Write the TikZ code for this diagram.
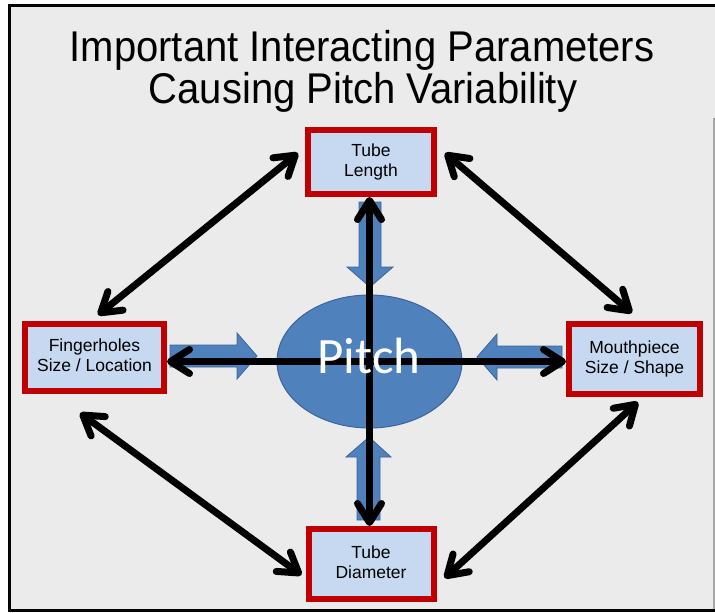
\documentclass[tikz,border=0pt]{standalone}
\usepackage{fontspec}
\setmainfont{Liberation Sans}
\newfontfamily\pitchfont{Carlito}
\usetikzlibrary{shapes.geometric,arrows.meta}
\definecolor{bgc}{HTML}{EBEBEB}
\definecolor{boxfill}{HTML}{C6D9F1}
\definecolor{boxred}{HTML}{C00000}
\definecolor{pblue}{HTML}{4F81BD}
\definecolor{pedge}{HTML}{3A659A}
\tikzset{
  param/.style={draw=boxred, fill=boxfill, line width=6pt, inner sep=0pt,
    align=center, font=\fontsize{17.5}{20}\selectfont},
  blockarrow/.style={fill=pblue, draw=pedge, line width=0.8pt, line join=miter},
  link/.style={line width=7pt, black, line cap=round,
    {Straight Barb[length=19pt,width=24pt,round]}-{Straight Barb[length=19pt,width=24pt,round]}},
  titletext/.style={font=\fontsize{43}{45}\selectfont, anchor=base, inner sep=0pt, xscale=0.93}
}
\begin{document}
\begin{tikzpicture}[x=1pt,y=-1pt]
\useasboundingbox (0,0) rectangle (715,613);
\fill[white] (0,0) rectangle (715,613);
\fill[bgc] (9.5,5) rectangle (715,610);
\draw[black, line width=3pt] (715,5.3) -- (9.8,5.3) -- (9.8,610) -- (715,610);
\draw[gray!70, line width=1.2pt] (714,118) -- (714,609);

% title
\node[titletext] (t1) at (362,61) {Important Interacting Parameters};
\node[titletext] (t2) at (363,103) {Causing Pitch Variability};

% parameter boxes
\node[param, minimum width=126pt, minimum height=64pt] (TL) at (371,162) {\strut Tube\\\strut Length};
\node[param, minimum width=125pt, minimum height=70pt] (TD) at (371,564) {\strut Tube\\\strut Diameter};
\node[param, minimum width=139pt, minimum height=67pt] (FH) at (94.5,357.5) {\strut Fingerholes\\\strut Size / Location};
\node[param, minimum width=131pt, minimum height=70pt] (MP) at (634.5,359) {\strut Mouthpiece\\\strut Size / Shape};

% central ellipse
\node[ellipse, fill=pblue, draw=pedge, line width=1pt, minimum width=185pt, minimum height=133pt, inner sep=0pt] (P) at (369.5,361.5) {};

% block arrows
\path[blockarrow] (359,202) -- (381,202) -- (381,267) -- (393,267) -- (370,287) -- (347,267) -- (359,267) -- cycle;
\path[blockarrow] (357,520) -- (380,520) -- (380,457) -- (391,457) -- (369,437) -- (346,457) -- (357,457) -- cycle;
\path[blockarrow] (170,345) -- (237,345) -- (237,333) -- (257,356) -- (237,379) -- (237,367) -- (170,367) -- cycle;
\path[blockarrow] (562,346) -- (497,346) -- (497,334) -- (477,357) -- (497,380) -- (497,368) -- (562,368) -- cycle;

% black double arrows
\draw[link] (TL.south -| P) -- (TD.north -| P);
\draw[link] (FH.east |- P) -- (MP.west |- P);
\draw[link] ([shift={(-7pt,9pt)}]TL.west) -- ([shift={(3.5pt,6pt)}]FH.north);
\draw[link] ([shift={(8pt,9pt)}]TL.east) -- ([shift={(-2.5pt,8pt)}]MP.north);
\draw[link] ([shift={(-14.5pt,-19pt)}]FH.south) -- ([shift={(-4pt,-11pt)}]TD.west);
\draw[link] ([shift={(8pt,-14pt)}]TD.east) -- ([shift={(3.5pt,-5pt)}]MP.south);

% pitch label
\node[font=\pitchfont\fontsize{51}{51}\selectfont, text=white, anchor=base, inner sep=0pt] (PL) at (369,373) {Pitch};
\end{tikzpicture}
\end{document}
